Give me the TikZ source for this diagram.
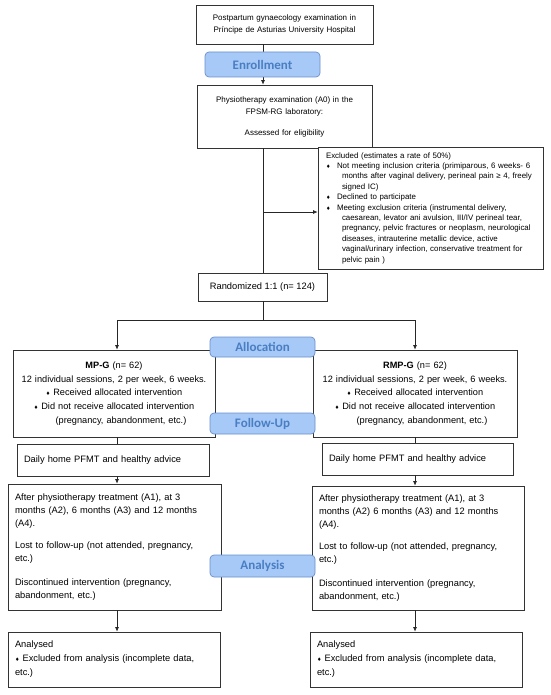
\documentclass[tikz,border=0pt]{standalone}
\usepackage{fontspec}
\setmainfont{Liberation Sans}
\newfontfamily\stagefont{Carlito}
\newfontfamily\symfont{DejaVu Sans}
\usetikzlibrary{positioning,arrows.meta}
\definecolor{stagefill}{HTML}{A6C9F7}
\definecolor{stageedge}{HTML}{6B8FCB}
\definecolor{stagetext}{HTML}{4A7EC2}
\newcommand{\dmd}{{\symfont\fontsize{5}{5}\selectfont ♦}}

\begin{document}
\begin{tikzpicture}
  [x=1pt,y=-1pt,
  box/.style={draw=black!80,line width=0.7pt,fill=white,inner xsep=7pt,inner ysep=2pt,
font=\fontsize{9.3}{13}\selectfont},
  stage/.style={draw=stageedge,fill=stagefill,line width=0.7pt,rounded corners=4pt,
text=stagetext,font=\stagefont\bfseries\fontsize{13}{15}\selectfont,inner sep=0pt},
  link/.style={draw=black!85,line width=0.7pt},
  arr/.style={link,-{Latex[length=4.5pt,width=4pt]}}]
  \useasboundingbox (0,0) rectangle (550,695);

  % columns the connectors run along
  \coordinate (spine) at (263,0);
  \coordinate (colL) at (117,0);
  \coordinate (colR) at (415,0);

  \node[box,align=center,text width=163pt,minimum height=39pt,font=\fontsize{8}{11.5}\selectfont]
  (hospital) at (284.5,24.5) {Postpartum gynaecology examination in\\Príncipe de Asturias University Hospital};
  \node[box,align=center,text width=161pt,minimum height=63pt,font=\fontsize{8}{12}\selectfont]
  (eligible) at (284.5,116.5) {Physiotherapy examination (A0) in the\\FPSM-RG laboratory:\\[9pt]Assessed for eligibility};
  \node[box,align=left,inner xsep=8pt,text width=209pt,minimum height=122pt,font=\fontsize{7.9}{10.4}\selectfont]
  (excluded) at (430.5,208) {Excluded (estimates a rate of 50\%)\\
\makebox[11pt][l]{\dmd}Not meeting inclusion criteria (primiparous, 6 weeks- 6\\
\hspace*{16pt}months after vaginal delivery, perineal pain ≥ 4, freely\\
\hspace*{16pt}signed IC)\\
\makebox[11pt][l]{\dmd}Declined to participate\\
\makebox[11pt][l]{\dmd}Meeting exclusion criteria (instrumental delivery,\\
\hspace*{16pt}caesarean, levator ani avulsion, III/IV perineal tear,\\
\hspace*{16pt}pregnancy, pelvic fractures or neoplasm, neurological\\
\hspace*{16pt}diseases, intrauterine metallic device, active\\
\hspace*{16pt}vaginal/urinary infection, conservative treatment for\\
\hspace*{16pt}pelvic pain )};
  \node[box,minimum width=129pt,minimum height=28pt] (rand) at (262.5,287) {Randomized 1:1 (n= 124)};

  \node[box,align=center,text width=188pt,minimum height=87pt,font=\fontsize{9.2}{13.7}\selectfont]
  (mpg) at (114,393.5) {\textbf{MP-G} (n= 62)\\12 individual sessions, 2 per week, 6 weeks.\\
\dmd\ Received allocated intervention\\\dmd\ Did not receive allocated intervention\\
\hspace*{14pt}(pregnancy, abandonment, etc.)};
  \node[box,align=center,text width=190pt,minimum height=87pt,font=\fontsize{9.2}{13.7}\selectfont]
  (rmpg) at (415,393.5) {\textbf{RMP-G} (n= 62)\\12 individual sessions, 2 per week, 6 weeks.\\
\dmd\ Received allocated intervention\\\dmd\ Did not receive allocated intervention\\
\hspace*{14pt}(pregnancy, abandonment, etc.)};

  \node[box,align=left,text width=178pt,minimum height=32pt] (dailyL) at (113,460) {Daily home PFMT and healthy advice};
  \node[box,align=left,text width=177pt,minimum height=32pt] (dailyR) at (417.5,459) {Daily home PFMT and healthy advice};

  \node[box,align=left,text width=199pt,minimum height=126pt] (afterL) at (114.5,547)
  {After physiotherapy treatment (A1), at 3\\months (A2), 6 months (A3) and 12 months\\(A4).\\[9pt]
Lost to follow-up (not attended, pregnancy,\\etc.)\\[11pt]Discontinued intervention (pregnancy,\\abandonment, etc.)};
  \node[box,align=left,text width=198pt,minimum height=124pt] (afterR) at (418,548)
  {After physiotherapy treatment (A1), at 3\\months (A2) 6 months (A3) and 12 months\\(A4).\\[9pt]
Lost to follow-up (not attended, pregnancy,\\etc.)\\[11pt]Discontinued intervention (pregnancy,\\abandonment, etc.)};

  \node[box,align=left,text width=198pt,minimum height=55pt,font=\fontsize{9.3}{14}\selectfont] (anaL) at (114,659.5)
  {Analysed\\\dmd\ Excluded from analysis (incomplete data,\\etc.)};
  \node[box,align=left,text width=198pt,minimum height=55pt,font=\fontsize{9.3}{14}\selectfont] (anaR) at (416,659.5)
  {Analysed\\\dmd\ Excluded from analysis (incomplete data,\\etc.)};

  % connectors
  \coordinate (fork) at (263,212);
  \coordinate (split) at (263,320);
  \draw[arr] (hospital.south -| spine) -- (eligible.north -| spine);
  \draw[link] (eligible.south -| spine) -- (rand.north -| spine);
  \draw[arr] (fork) -- (fork -| excluded.west);
  \draw[link] (rand.south -| spine) -- (split);
  \draw[arr] (split) -| (mpg.north -| colL);
  \draw[arr] (split) -| (rmpg.north -| colR);
  \draw[link] (mpg.south -| colL) -- (dailyL.north -| colL);
  \draw[link] (rmpg.south -| colR) -- (dailyR.north -| colR);
  \draw[arr] (dailyL.south -| colL) -- (afterL.north -| colL);
  \draw[arr] (dailyR.south -| colR) -- (afterR.north -| colR);
  \draw[arr] (afterL.south -| colL) -- (anaL.north -| colL);
  \draw[arr] (afterR.south -| colR) -- (anaR.north -| colR);

  % stage labels on top
  \node[stage,minimum width=115pt,minimum height=25pt] (enrollment) at (262.5,64.5) {Enrollment};
  \node[stage,minimum width=105pt,minimum height=20pt] (allocation) at (262.5,347) {Allocation};
  \node[stage,minimum width=105pt,minimum height=21pt] (followup) at (262.5,423.5) {Follow-Up};
  \node[stage,minimum width=105pt,minimum height=22pt] (analysis) at (262.5,566) {Analysis};
\end{tikzpicture}
\end{document}
